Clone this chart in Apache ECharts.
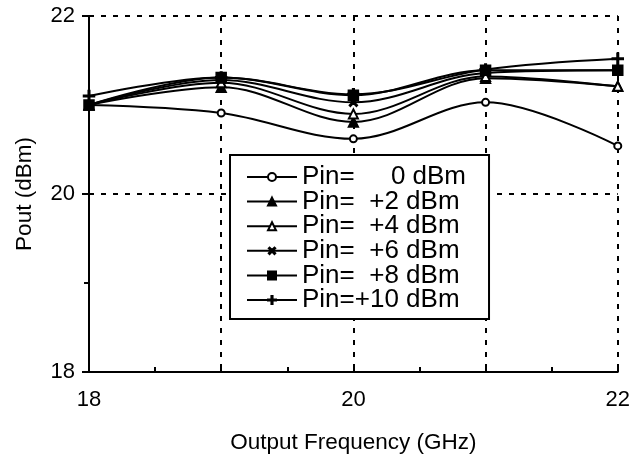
<!DOCTYPE html>
<html>
<head>
<meta charset="utf-8">
<script src="https://cdn.jsdelivr.net/npm/echarts@6/dist/echarts.min.js"></script>
<style>html,body{margin:0;padding:0;background:#fff}#c{width:633px;height:463px}</style>
</head>
<body>
<div id="c"></div>
<script>
var freq = [18, 19, 20, 21, 22];
var pin0 = [21.0, 20.91, 20.62, 21.03, 20.54];
var pin2 = [21.0, 21.2, 20.81, 21.3, 21.21];
var pin4 = [21.0, 21.25, 20.9, 21.32, 21.21];
var pin6 = [21.0, 21.28, 21.03, 21.36, 21.39];
var pin8 = [21.0, 21.31, 21.11, 21.39, 21.39];
var pin10 = [21.1, 21.31, 21.12, 21.4, 21.52];
var names = ['Pin=     0 dBm', 'Pin=  +2 dBm', 'Pin=  +4 dBm', 'Pin=  +6 dBm', 'Pin=  +8 dBm', 'Pin=+10 dBm'];
var xTickLabels = {18: '18', 20: '20', 22: '22'};
var yTickLabels = {18: '18', 20: '20', 22: '22'};

var plusPath = 'path://M4.3,0h1.4v4.3h4.3v1.4h-4.3v4.3h-1.4v-4.3h-4.3v-1.4h4.3z';
var seriesData = [pin0, pin2, pin4, pin6, pin8, pin10];
var symbols = [
  {symbol: 'emptyCircle', symbolSize: 7, rot: 0},
  {symbol: 'triangle', symbolSize: 10, rot: 0},
  {symbol: 'emptyTriangle', symbolSize: 9, rot: 0},
  {symbol: plusPath, symbolSize: 10, rot: 45},
  {symbol: 'rect', symbolSize: 10, rot: 0},
  {symbol: plusPath, symbolSize: 11, rot: 0}
];

var chart = echarts.init(document.getElementById('c'), null, {renderer: 'canvas'});
var font = 'Liberation Sans, Arial, sans-serif';
var series = seriesData.map(function (d, i) {
  return {
    name: names[i],
    type: 'line',
    smooth: 0.35,
    data: freq.map(function (f, j) { return [f, d[j]]; }),
    symbol: symbols[i].symbol,
    symbolSize: symbols[i].symbolSize,
    symbolRotate: symbols[i].rot,
    showAllSymbol: true,
    lineStyle: {color: '#000', width: 2},
    itemStyle: {color: '#000', borderColor: '#000', borderWidth: 1.5},
    emphasis: {disabled: true},
    z: 3 + i
  };
});

chart.setOption({
  animation: false,
  backgroundColor: '#fff',
  grid: {left: 89, right: 13, top: 16, bottom: 91, containLabel: false},
  legend: {
    orient: 'vertical',
    left: 230,
    top: 155,
    itemWidth: 50,
    itemHeight: 10,
    itemGap: -1.4,
    padding: [9, 23, 6, 16],
    borderColor: '#000',
    borderWidth: 2,
    backgroundColor: '#fff',
    textStyle: {fontFamily: font, fontSize: 26, color: '#000'},
    data: names,
    z: 10
  },
  xAxis: {
    type: 'value',
    min: 18, max: 22, interval: 1,
    name: 'Output Frequency (GHz)',
    nameLocation: 'middle',
    nameGap: 59,
    nameTextStyle: {fontFamily: font, fontSize: 22.5, color: '#000'},
    axisLine: {onZero: false, lineStyle: {color: '#000', width: 2}},
    axisTick: {inside: true, length: 7, lineStyle: {color: '#000', width: 2}},
    minorTick: {show: true, splitNumber: 2, length: 5, lineStyle: {color: '#000', width: 2}},
    axisLabel: {
      fontFamily: font, fontSize: 22, color: '#000', margin: 17,
      formatter: function (v) { return xTickLabels[v] || ''; }
    },
    splitLine: {show: true, lineStyle: {color: '#000', width: 2, type: [5, 7]}}
  },
  yAxis: {
    type: 'value',
    min: 18, max: 22, interval: 2,
    name: 'Pout (dBm)',
    nameLocation: 'middle',
    nameGap: 53,
    nameTextStyle: {fontFamily: font, fontSize: 22.5, color: '#000'},
    axisLine: {onZero: false, lineStyle: {color: '#000', width: 2}},
    axisTick: {inside: false, length: 7, lineStyle: {color: '#000', width: 2}},
    minorTick: {show: true, splitNumber: 2, length: 5, lineStyle: {color: '#000', width: 2}},
    axisLabel: {
      fontFamily: font, fontSize: 22, color: '#000', margin: 14,
      formatter: function (v) { return yTickLabels[v] || ''; }
    },
    splitLine: {show: true, lineStyle: {color: '#000', width: 2, type: [5, 7]}}
  },
  series: series
});
</script>
</body>
</html>
